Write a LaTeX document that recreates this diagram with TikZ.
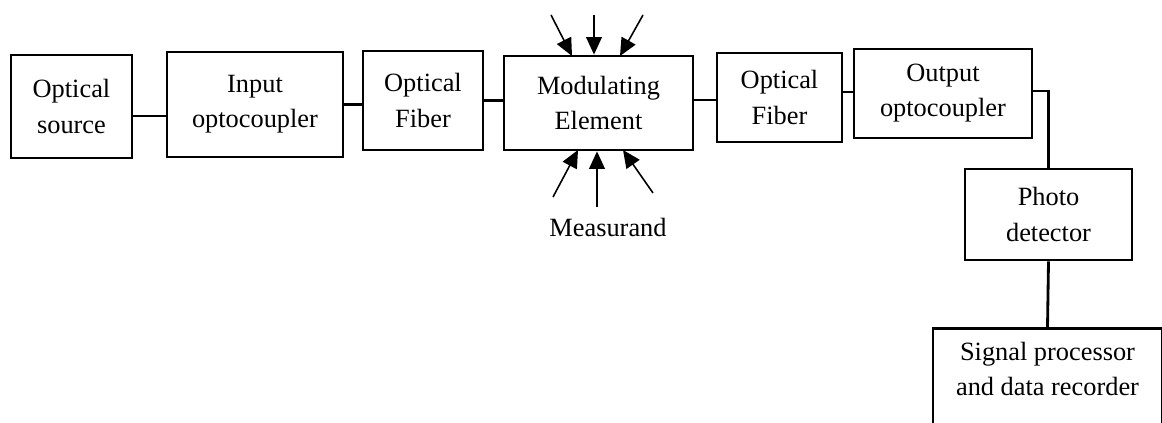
\documentclass[tikz,border=0pt]{standalone}
\usepackage{fontspec}
\setmainfont{Liberation Serif}
\usetikzlibrary{arrows.meta}

\begin{document}
\begin{tikzpicture}[
	block/.style={draw, line width=1.6pt, align=center, inner sep=0pt},
	link/.style={line width=1.6pt},
	meas/.style={line width=.9pt, -{Triangle[length=10pt, width=9pt]}}
	]
	\fontsize{15}{20}\selectfont
	\useasboundingbox (0,0) rectangle (23.24,8.46);

	% main chain
	\node[block, minimum width=2.42cm, minimum height=2.06cm] (src) at (1.43,6.33) {Optical\\source};
	\node[block, minimum width=3.52cm, minimum height=2.10cm] (inc) at (5.10,6.37) {Input\\optocoupler};
	\node[block, minimum width=2.40cm, minimum height=1.98cm] (fib1) at (8.46,6.45) {Optical\\Fiber};
	\node[block, minimum width=3.78cm, minimum height=1.88cm] (mod) at (11.97,6.40) {Modulating\\Element};
	\node[block, minimum width=2.50cm, minimum height=1.78cm] (fib2) at (15.59,6.51) {Optical\\Fiber};
	\node[block, minimum width=3.56cm, minimum height=1.78cm] (outc) at (18.86,6.59) {Output\\optocoupler};
	\node[block, minimum width=3.34cm, minimum height=1.82cm] (det) at (20.97,4.17) {Photo\\detector};
	\node[block, anchor=north, minimum width=4.58cm, text height=38pt, text depth=2cm] (proc) at (20.95,1.92) {Signal processor\\and data recorder};

	\draw[link] ([yshift=-.19cm]src.east) -- ([yshift=-.19cm]src.east -| inc.west);
	\draw[link] (inc.east) -- (inc.east -| fib1.west);
	\draw[link] (fib1.east) -- (fib1.east -| mod.west);
	\draw[link] ([yshift=.06cm]mod.east) -- ([yshift=.06cm]mod.east -| fib2.west);
	\draw[link] ([yshift=.11cm]fib2.east) -- ([yshift=.11cm]fib2.east -| outc.west);
	\draw[link] ([yshift=.05cm]outc.east) -| (det.north);
	\draw[link] (det.south) -- (proc.north);

	% measurand
	\node (mlab) at (12.16,3.92) {Measurand};
	\coordinate (t1) at (11.02,8.16);
	\coordinate (t2) at (11.88,8.16);
	\coordinate (t3) at (12.86,8.16);
	\coordinate (b1) at (11.06,4.52);
	\coordinate (b2) at (11.94,4.32);
	\coordinate (b3) at (13.06,4.60);
	\draw[meas] (t1) -- (11.44,7.34);
	\draw[meas] (t2) -- (t2 |- mod.north);
	\draw[meas] (t3) -- (12.40,7.34);
	\draw[meas] (b1) -- (11.56,5.46);
	\draw[meas] (b2) -- (b2 |- mod.south);
	\draw[meas] (b3) -- (12.46,5.46);
\end{tikzpicture}
\end{document}
